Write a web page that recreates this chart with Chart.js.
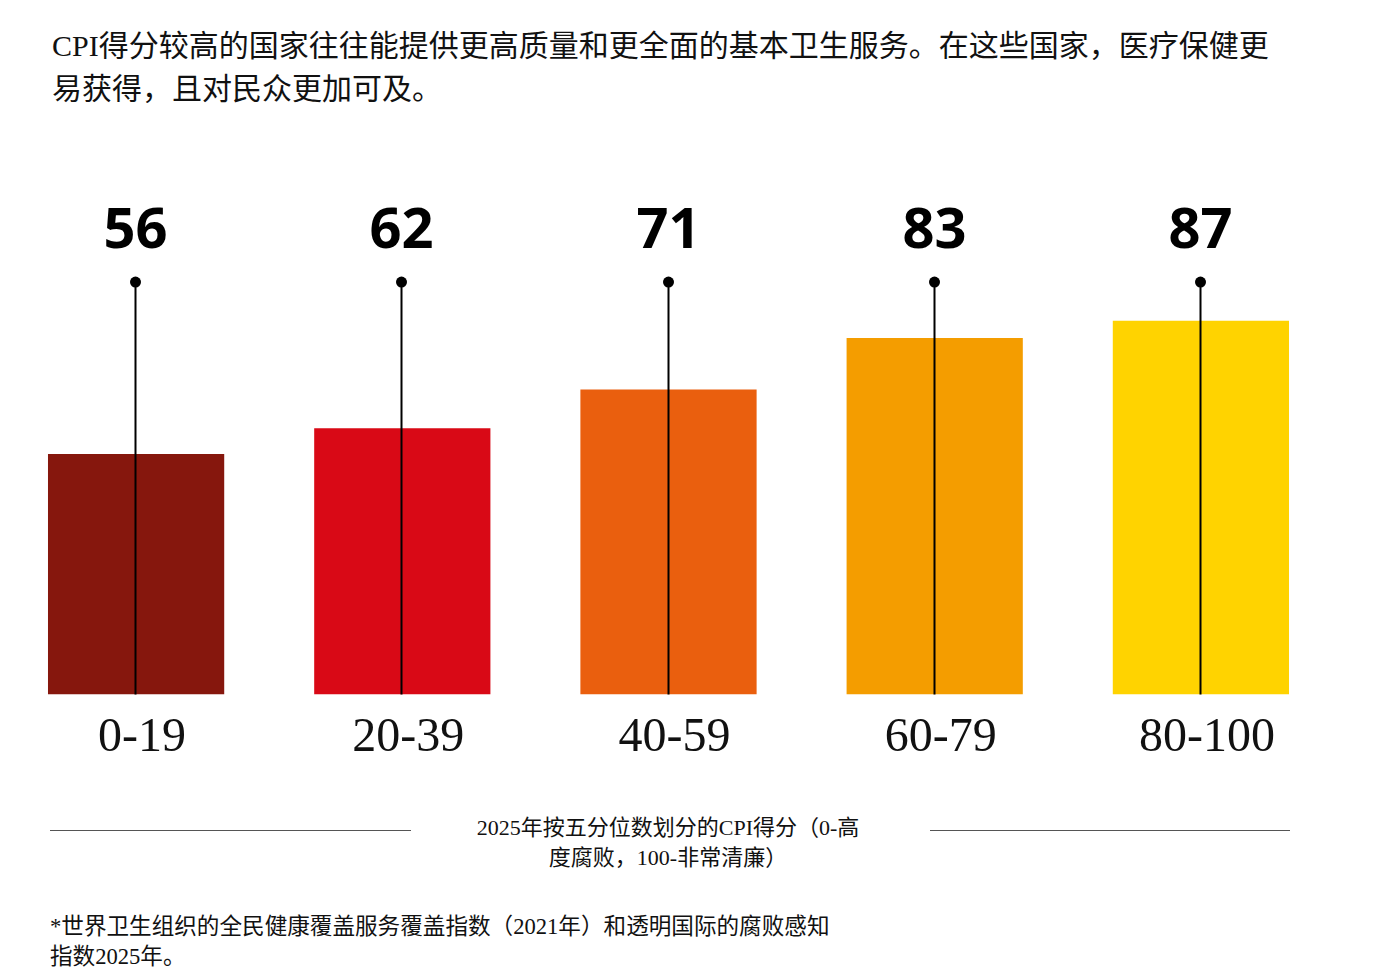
<!DOCTYPE html>
<html>
<head>
<meta charset="utf-8">
<script src="https://cdn.jsdelivr.net/npm/chart.js@4.4.1/dist/chart.umd.min.js"></script>
<style>
  html, body { margin: 0; padding: 0; background: #ffffff; }
  body { width: 1399px; height: 973px; position: relative; overflow: hidden;
         font-family: "Liberation Serif", "Noto Sans CJK SC", serif; color: #111; }
  #title { position: absolute; left: 52px; top: 24px; font-size: 30px; line-height: 43px; white-space: nowrap; }
  #chartWrap { position: absolute; left: 0; top: 0; width: 1399px; height: 786px; }
  #axisTitle { position: absolute; left: 468px; width: 400px; top: 813px; font-size: 22px; line-height: 30px; text-align: center; white-space: nowrap; }
  .rule { position: absolute; top: 830px; height: 0; border-top: 1px solid #555; }
  #footnote { position: absolute; left: 50px; top: 912px; font-size: 22.6px; line-height: 30px; white-space: nowrap; }
</style>
</head>
<body>
<div id="title">CPI得分较高的国家往往能提供更高质量和更全面的基本卫生服务。在这些国家，医疗保健更<br>易获得，且对民众更加可及。</div>
<div id="chartWrap"><canvas id="c"></canvas></div>
<div class="rule" style="left:50px; width:361px;"></div>
<div class="rule" style="left:930px; width:360px;"></div>
<div id="axisTitle">2025年按五分位数划分的CPI得分（0-高<br>度腐败，100-非常清廉）</div>
<div id="footnote">*世界卫生组织的全民健康覆盖服务覆盖指数（2021年）和透明国际的腐败感知<br>指数2025年。</div>
<script>
const categories = ['0-19', '20-39', '40-59', '60-79', '80-100'];
const uhcIndex = [56, 62, 71, 83, 87];
const barColors = ['#86170D', '#D90916', '#EA5F0E', '#F49D00', '#FFD300'];

const STEM_TOP = 96;      // scale value where the stems end
const LABEL_GAP = 50;     // px above the dot for the value label

const stemPlugin = {
  id: 'stems',
  afterDatasetsDraw(chart) {
    const ctx = chart.ctx;
    const y = chart.scales.y;
    const meta = chart.getDatasetMeta(0);
    const y0 = y.getPixelForValue(0);
    const yt = y.getPixelForValue(STEM_TOP);
    ctx.save();
    meta.data.forEach((bar, i) => {
      const x = Math.round(bar.x) - 0.5;
      ctx.strokeStyle = '#000';
      ctx.lineWidth = 2;
      ctx.beginPath();
      ctx.moveTo(x, y0);
      ctx.lineTo(x, yt);
      ctx.stroke();
      ctx.fillStyle = '#000';
      ctx.beginPath();
      ctx.arc(x, yt, 5.5, 0, Math.PI * 2);
      ctx.fill();
      ctx.font = 'bold 56px "Noto Sans", "Open Sans", sans-serif';
      ctx.textAlign = 'center';
      ctx.textBaseline = 'middle';
      ctx.fillText(String(uhcIndex[i]), x, yt - LABEL_GAP);
    });
    ctx.restore();
  }
};

new Chart(document.getElementById('c'), {
  type: 'bar',
  data: {
    labels: categories,
    datasets: [{
      data: uhcIndex,
      backgroundColor: barColors,
      borderWidth: 0,
      categoryPercentage: 1,
      barPercentage: 0.662
    }]
  },
  options: {
    responsive: true,
    maintainAspectRatio: false,
    animation: false,
    layout: { padding: { left: 3, right: 65, top: 222, bottom: 4 } },
    plugins: { legend: { display: false }, tooltip: { enabled: false } },
    scales: {
      x: {
        grid: { display: false, drawTicks: false },
        border: { display: false },
        ticks: {
          color: '#111',
          padding: 15,
          labelOffset: 6,
          font: { family: '"Liberation Serif", "DejaVu Serif", serif', size: 48 }
        }
      },
      y: {
        display: false,
        min: 0,
        max: 110
      }
    }
  },
  plugins: [stemPlugin]
});
</script>
</body>
</html>
